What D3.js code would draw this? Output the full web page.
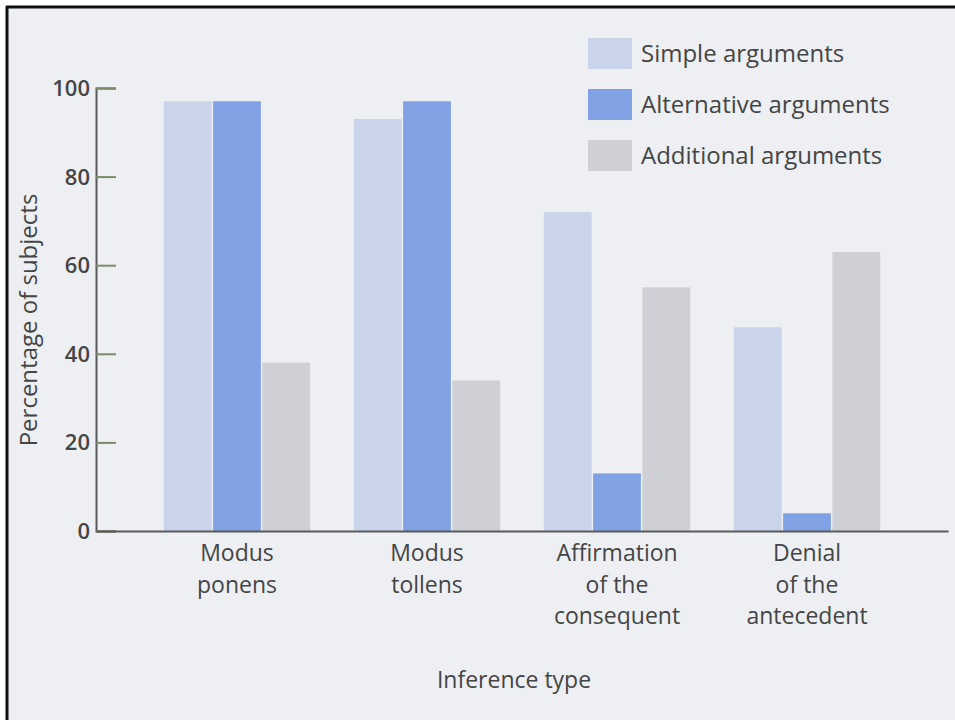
<!DOCTYPE html>
<html>
<head>
<meta charset="utf-8">
<script src="https://cdn.jsdelivr.net/npm/d3@7"></script>
<style>
  body { margin: 0; background: #ffffff; }
  text { font-family: "Open Sans", "Noto Sans", sans-serif; fill: #454545; }
</style>
</head>
<body>
<div id="chart"></div>
<script>
// —————————— DATA
var categories = [["Modus", "ponens"], ["Modus", "tollens"], ["Affirmation", "of the", "consequent"], ["Denial", "of the", "antecedent"]];
var seriesNames = ["Simple arguments", "Alternative arguments", "Additional arguments"];
var simpleVals = [97, 93, 72, 46];
var alternativeVals = [97, 97, 13, 4];
var additionalVals = [38, 34, 55, 63];
var yTicks = [0, 20, 40, 60, 80, 100];

var colors = ["#c9d4ea", "#80a2e4", "#cfd0d6"];
var allVals = [simpleVals, alternativeVals, additionalVals];

// —————————— LAYOUT
var W = 955, H = 720;
var plotLeft = 96, plotRight = 948, yBase = 531, yTop = 88;

var svg = d3.select("#chart").append("svg")
    .attr("width", W)
    .attr("height", H);

// photo background + frame
svg.append("rect").attr("x", 0).attr("y", 0).attr("width", W).attr("height", H).attr("fill", "#ffffff");
svg.append("rect").attr("x", 8).attr("y", 8).attr("width", W - 8).attr("height", H - 8).attr("fill", "#edeff3");
svg.append("line").attr("x1", 7).attr("x2", 7).attr("y1", 6).attr("y2", H).attr("stroke", "#111").attr("stroke-width", 3);
svg.append("line").attr("x1", 6).attr("x2", W).attr("y1", 7).attr("y2", 7).attr("stroke", "#111").attr("stroke-width", 3);

// scales
var x0 = d3.scaleBand()
    .domain(d3.range(categories.length))
    .range([plotLeft, plotRight])
    .paddingInner(0.23)
    .paddingOuter(0.357);

var x1 = d3.scaleBand()
    .domain(d3.range(seriesNames.length))
    .range([0, x0.bandwidth()])
    .paddingInner(0.03);

var y = d3.scaleLinear()
    .domain([0, 100])
    .range([yBase, yTop]);

// bars
var groups = svg.selectAll(".grp")
    .data(categories)
    .enter()
    .append("g")
      .attr("class", "grp")
      .attr("transform", function(d, i) { return "translate(" + x0(i) + ",0)"; });

groups.selectAll("rect")
    .data(function(d, i) { return allVals.map(function(v, s) { return {s: s, v: v[i]}; }); })
    .enter()
    .append("rect")
      .attr("x", function(d) { return x1(d.s); })
      .attr("width", x1.bandwidth())
      .attr("y", function(d) { return y(d.v); })
      .attr("height", function(d) { return yBase - y(d.v); })
      .attr("fill", function(d) { return colors[d.s]; });

// Y axis
var yAxis = svg.append("g")
    .attr("transform", "translate(" + plotLeft + ",0)")
    .call(d3.axisRight(y).tickValues(yTicks).tickSize(20).tickFormat(""));
yAxis.select(".domain").attr("stroke", "#5a5a5a").attr("stroke-width", 2);
yAxis.selectAll(".tick line").attr("stroke", "#7b8a6a").attr("stroke-width", 2);

svg.selectAll(".ylab")
    .data(yTicks)
    .enter()
    .append("text")
      .attr("class", "ylab")
      .attr("x", plotLeft - 6)
      .attr("y", function(d) { return y(d) + 8; })
      .attr("text-anchor", "end")
      .style("font-size", "22px")
      .style("font-weight", "600")
      .text(function(d) { return d; });

// X axis baseline
var xAxis = svg.append("g")
    .attr("transform", "translate(0," + yBase + ")")
    .call(d3.axisBottom(x0).tickSize(0).tickFormat(""));
xAxis.select(".domain").attr("stroke", "#5a5a5a").attr("stroke-width", 2);

// category labels
svg.selectAll(".xlab")
    .data(categories)
    .enter()
    .append("text")
      .attr("class", "xlab")
      .attr("text-anchor", "middle")
      .style("font-size", "23px")
      .attr("transform", function(d, i) { return "translate(" + (x0(i) + x0.bandwidth() / 2) + ",0)"; })
    .selectAll("tspan")
    .data(function(d) { return d; })
    .enter()
    .append("tspan")
      .attr("x", 0)
      .attr("y", function(d, j) { return 561 + j * 31.5; })
      .text(function(d) { return d; });

// axis titles
svg.append("text")
    .attr("x", 514)
    .attr("y", 688)
    .attr("text-anchor", "middle")
    .style("font-size", "23px")
    .text("Inference type");

svg.append("text")
    .attr("transform", "translate(37,320) rotate(-90)")
    .attr("text-anchor", "middle")
    .style("font-size", "24px")
    .text("Percentage of subjects");

// legend
var legend = svg.selectAll(".leg")
    .data(seriesNames)
    .enter()
    .append("g")
      .attr("class", "leg")
      .attr("transform", function(d, i) { return "translate(588," + (38 + i * 51) + ")"; });

legend.append("rect")
    .attr("width", 44)
    .attr("height", 31)
    .attr("fill", function(d, i) { return colors[i]; });

legend.append("text")
    .attr("x", 53)
    .attr("y", 24)
    .style("font-size", "24px")
    .text(function(d) { return d; });
</script>
</body>
</html>
